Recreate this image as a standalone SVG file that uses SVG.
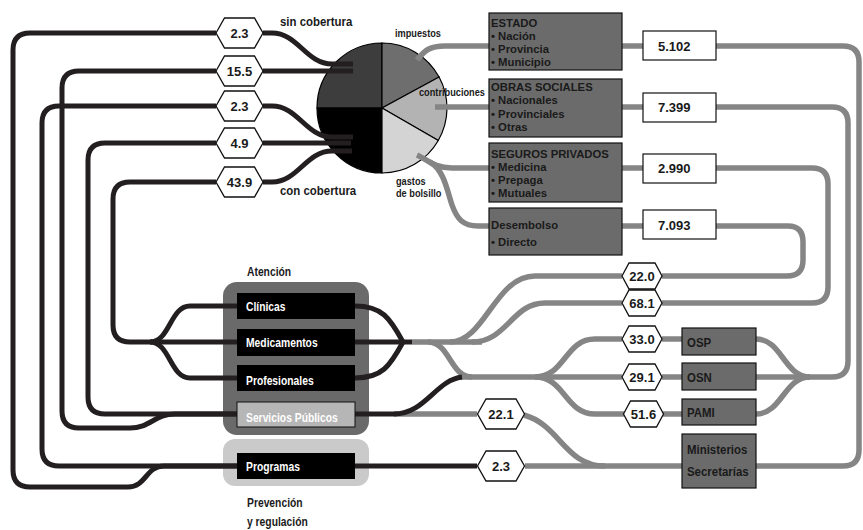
<svg xmlns="http://www.w3.org/2000/svg" width="863" height="530" viewBox="0 0 863 530">
<style>
text{font-family:"Liberation Sans",Arial,sans-serif;font-weight:bold;fill:#1a1a1a}
.blk{fill:none;stroke:#231f20;stroke-width:5}
.gry{fill:none;stroke:#858585;stroke-width:5.5}
.src{fill:#6b6b6b;stroke:#111;stroke-width:1.2}
.val{fill:#fff;stroke:#111;stroke-width:1.2}
.hx{fill:#fff;stroke:#111;stroke-width:1.3}
.bx{fill:#000}
.n{font-size:13px;text-anchor:middle}
.v{font-size:13px}
.s{font-size:11.3px}
.o{font-size:13px}
.b{font-size:12px;fill:#fff}
.p{font-size:11.5px}
.c{font-size:13px}
.g{font-size:12px}
.sl{stroke:#000;stroke-width:1.2}
</style>
<defs>
<polygon id="hL" points="-23.5,0 -15,-15 15,-15 23.5,0 15,15 -15,15"/>
<polygon id="hS" points="-20,0 -13,-13 13,-13 20,0 13,13 -13,13"/>
</defs>
<rect width="863" height="530" fill="#fff"/>

<g id="grupo-atencion">
<rect x="223" y="282" width="146" height="153" rx="14" fill="#6a6a6a"/>
<text class="g" transform="translate(247 276) scale(.86 1)">Atención</text>
</g>
<g id="grupo-prevencion">
<rect x="223" y="439" width="146" height="47" rx="12" fill="#cacaca"/>
<text class="g" transform="translate(247 507) scale(.86 1)">Prevención</text>
<text class="g" transform="translate(247 526) scale(.86 1)">y regulación</text>
</g>

<g id="pie">
<path class="sl" fill="#3d3d3d" d="M382,108 L317,108 A65,65 0 0 1 382,43 Z"/>
<path class="sl" fill="#000" d="M382,108 L382,173 A65,65 0 0 1 317,108 Z"/>
<path class="sl" fill="#6e6e6e" d="M382,108 L382,43 A65,65 0 0 1 439.1,77 Z"/>
<path class="sl" fill="#b3b3b3" d="M382,108 L439.1,77 A65,65 0 0 1 438.3,140.5 Z"/>
<path class="sl" fill="#d4d4d4" d="M382,108 L438.3,140.5 A65,65 0 0 1 382,173 Z"/>
</g>

<g id="connectors">
<g class="gry">
<path d="M417,60 C425,50 430,46 445,46 H489"/>
<path d="M435,107 H489"/>
<path d="M417,155 C428,160 434,168 452,168 H489"/>
<path d="M430,162 C444,170 447,190 452,205 C457,219 463,226 478,226 H489"/>
<path d="M622,46 H643 M622,107 H643 M622,168 H643 M622,226 H643"/>
<path d="M716,46 H843 Q859,46 859,62 V450 Q859,466 843,466 H756"/>
<path d="M716,107 H832 Q848,107 848,123 V361 Q848,377 832,377 H756"/>
<path d="M716,168 H812 Q828,168 828,184 V287 Q828,303 812,303 H662"/>
<path d="M716,226 H788 Q803,226 803,242 V260 Q803,276 787,276 H662"/>
<path d="M412,342 H482"/>
<path d="M450,342 C485,342 495,276 535,276 H622"/>
<path d="M472,342 C507,342 512,303 545,303 H622"/>
<path d="M428,342 C450,342 450,377 472,377"/>
<path d="M460,377 H622"/>
<path d="M535,377 C565,377 565,339 595,339 H622"/>
<path d="M535,377 C565,377 565,414 595,414 H624"/>
<path d="M662,339 H682 M662,377 H682 M663,414 H682"/>
<path d="M756,339 C782,339 784,377 810,377"/>
<path d="M756,414 C782,414 784,377 810,377"/>
<path d="M396,414 H477"/>
<path d="M524,415 C560,425 565,466 605,466"/>
<path d="M525,466 H682"/>
</g>
<g class="blk">
<path d="M216,33 H30 Q13,33 13,50 V470 Q13,487 30,487 H128 C146,487 146,466 164,466 H237"/>
<path d="M216,71 H79 Q62,71 62,88 V411 Q62,428 79,428 H130 C150,428 155,414 175,414 H237"/>
<path d="M216,106 H59 Q42,106 42,123 V449 Q42,466 59,466 H237"/>
<path d="M216,143 H105 Q88,143 88,160 V397 Q88,414 105,414 H237"/>
<path d="M216,182 H130 Q113,182 113,199 V325 Q113,342 130,342 H237"/>
<path d="M150,342 C170,342 170,306 190,306 H237"/>
<path d="M150,342 C170,342 170,378 190,378 H237"/>
<path d="M263,33 H272 C298,33 306,64 332,64 H353"/>
<path d="M263,71 H353"/>
<path d="M263,106 H272 C298,106 306,137 332,137 H353"/>
<path d="M263,143 H351"/>
<path d="M263,182 H272 C298,182 306,151 332,151 H352"/>
<path d="M355,306 C382,306 390,318 403,342"/>
<path d="M355,378 C382,378 390,366 403,342"/>
<path d="M355,342 H412"/>
<path d="M355,414 H396"/>
<path d="M394,414 C425,414 436,380 462,377"/>
<path d="M355,466 H477"/>
</g>
</g>

<g id="pie-labels">
<text class="c" transform="translate(280 26) scale(.88 1)">sin cobertura</text>
<text class="c" transform="translate(280 195) scale(.88 1)">con cobertura</text>
<text class="p" transform="translate(395 37) scale(.8 1)">impuestos</text>
<text class="p" transform="translate(419 96) scale(.8 1)">contribuciones</text>
<text class="p" transform="translate(396 185) scale(.8 1)">gastos</text>
<text class="p" transform="translate(396 197) scale(.8 1)">de bolsillo</text>
</g>

<g id="hex-sin-2-3"><use href="#hL" class="hx" x="239.5" y="33"/><text class="n" x="239.5" y="37.5">2.3</text></g>
<g id="hex-sin-15-5"><use href="#hL" class="hx" x="239.5" y="71"/><text class="n" x="239.5" y="75.5">15.5</text></g>
<g id="hex-con-2-3"><use href="#hL" class="hx" x="239.5" y="106"/><text class="n" x="239.5" y="110.5">2.3</text></g>
<g id="hex-con-4-9"><use href="#hL" class="hx" x="239.5" y="143"/><text class="n" x="239.5" y="147.5">4.9</text></g>
<g id="hex-con-43-9"><use href="#hL" class="hx" x="239.5" y="182"/><text class="n" x="239.5" y="186.5">43.9</text></g>

<g id="estado"><rect class="src" x="489" y="13" width="133" height="57"/>
<text class="s" x="491" y="27">ESTADO</text>
<text class="s" x="491" y="40">• Nación</text>
<text class="s" x="491" y="53">• Provincia</text>
<text class="s" x="491" y="66">• Municipio</text></g>
<g id="obras-sociales"><rect class="src" x="489" y="79" width="133" height="58"/>
<text class="s" x="491" y="91">OBRAS SOCIALES</text>
<text class="s" x="491" y="104">• Nacionales</text>
<text class="s" x="491" y="118">• Provinciales</text>
<text class="s" x="491" y="131">• Otras</text></g>
<g id="seguros-privados"><rect class="src" x="489" y="143" width="133" height="59"/>
<text class="s" x="491" y="158">SEGUROS PRIVADOS</text>
<text class="s" x="491" y="171">• Medicina</text>
<text class="s" x="491" y="184">• Prepaga</text>
<text class="s" x="491" y="197">• Mutuales</text></g>
<g id="desembolso"><rect class="src" x="489" y="208" width="133" height="47"/>
<text class="s" x="491" y="229">Desembolso</text>
<text class="s" x="491" y="246">• Directo</text></g>

<g id="val-5102"><rect class="val" x="643" y="31" width="73" height="29"/><text class="v" x="658" y="51">5.102</text></g>
<g id="val-7399"><rect class="val" x="643" y="93" width="73" height="29"/><text class="v" x="658" y="112">7.399</text></g>
<g id="val-2990"><rect class="val" x="643" y="154" width="73" height="29"/><text class="v" x="658" y="173">2.990</text></g>
<g id="val-7093"><rect class="val" x="643" y="210" width="73" height="29"/><text class="v" x="658" y="230">7.093</text></g>

<g id="hex-22-0"><use href="#hS" class="hx" x="642" y="276"/><text class="n" x="642" y="280.5">22.0</text></g>
<g id="hex-68-1"><use href="#hS" class="hx" x="642" y="303"/><text class="n" x="642" y="307.5">68.1</text></g>
<g id="hex-33-0"><use href="#hS" class="hx" x="642" y="339"/><text class="n" x="642" y="343.5">33.0</text></g>
<g id="hex-29-1"><use href="#hS" class="hx" x="642" y="377"/><text class="n" x="642" y="381.5">29.1</text></g>
<g id="hex-51-6"><use href="#hS" class="hx" x="643.5" y="414"/><text class="n" x="643.5" y="418.5">51.6</text></g>
<g id="hex-22-1"><use href="#hL" class="hx" x="501" y="414"/><text class="n" x="501" y="418.5">22.1</text></g>
<g id="hex-prog-2-3"><use href="#hL" class="hx" x="501" y="466"/><text class="n" x="501" y="470.5">2.3</text></g>

<g id="osp"><rect class="src" x="682" y="328" width="74" height="27"/><text class="o" transform="translate(687 347) scale(.88 1)">OSP</text></g>
<g id="osn"><rect class="src" x="682" y="363" width="74" height="27"/><text class="o" transform="translate(687 382) scale(.88 1)">OSN</text></g>
<g id="pami"><rect class="src" x="682" y="399" width="74" height="26"/><text class="o" transform="translate(687 417) scale(.88 1)">PAMI</text></g>
<g id="ministerios"><rect class="src" x="682" y="434" width="74" height="54"/>
<text class="o" transform="translate(687 454) scale(.88 1)">Ministerios</text>
<text class="o" transform="translate(687 476) scale(.88 1)">Secretarías</text></g>

<g id="clinicas"><rect class="bx" x="237" y="293" width="118" height="26"/><text class="b" transform="translate(246 311) scale(.86 1)">Clínicas</text></g>
<g id="medicamentos"><rect class="bx" x="237" y="329" width="118" height="27"/><text class="b" transform="translate(246 347) scale(.86 1)">Medicamentos</text></g>
<g id="profesionales"><rect class="bx" x="237" y="365" width="118" height="26"/><text class="b" transform="translate(246 385) scale(.86 1)">Profesionales</text></g>
<g id="servicios-publicos"><rect x="237" y="402" width="118" height="25" fill="#b6b6b6" stroke="#111" stroke-width="1"/><text class="b" transform="translate(246 422) scale(.86 1)">Servicios Públicos</text></g>
<g id="programas"><rect class="bx" x="237" y="453" width="118" height="26"/><text class="b" transform="translate(246 471) scale(.86 1)">Programas</text></g>
</svg>
